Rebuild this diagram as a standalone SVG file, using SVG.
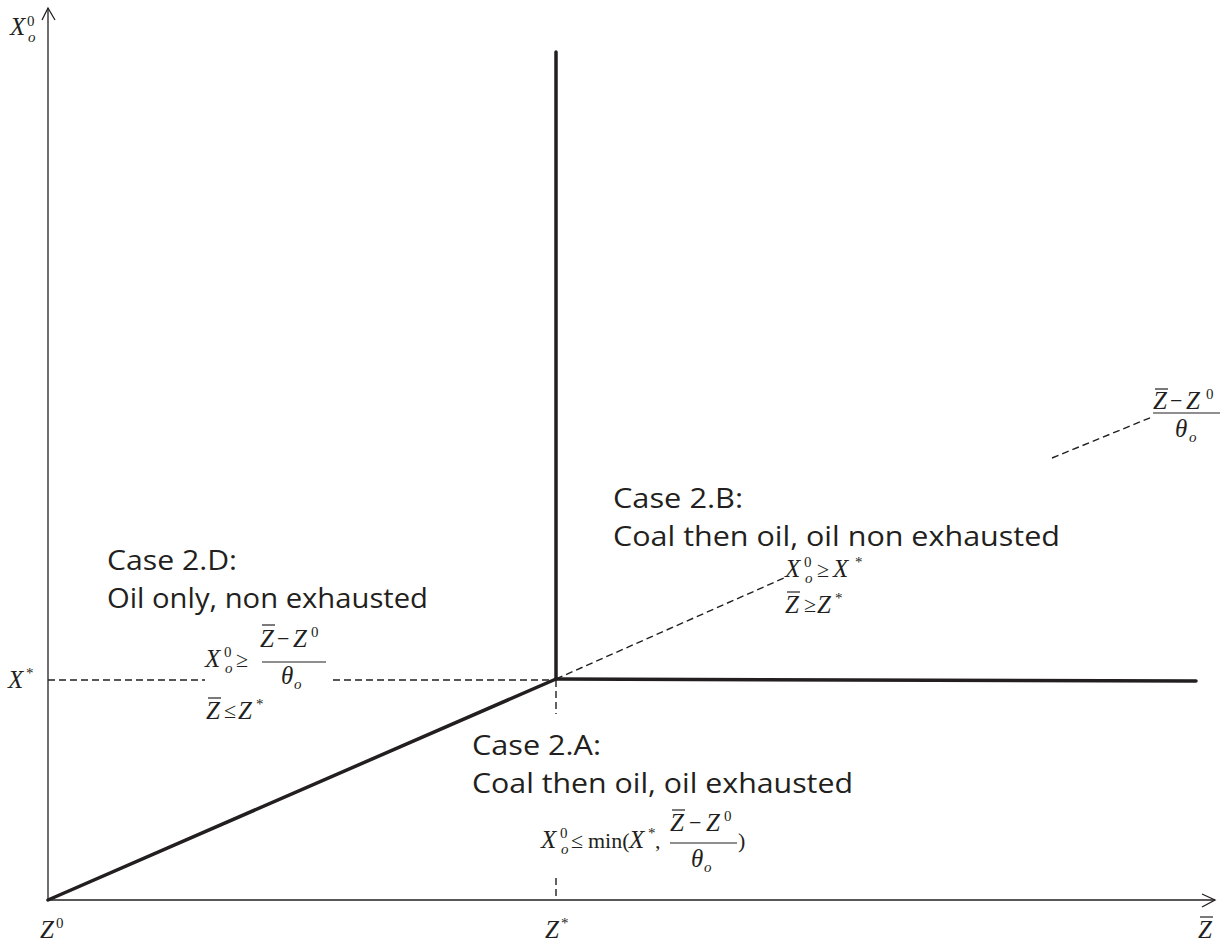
<svg xmlns="http://www.w3.org/2000/svg" width="1229" height="946" viewBox="0 0 1229 946">
<style>
.case{font-family:"Open Sans","Liberation Sans",sans-serif;font-size:28px;fill:#231f20}
.mi{font-family:"Liberation Serif",serif;font-style:italic;font-size:25px;fill:#231f20}
.mn{font-family:"Liberation Serif",serif;font-size:15px;fill:#231f20}
.mo{font-family:"Liberation Serif",serif;font-size:22px;fill:#231f20}
.ms{font-family:"Liberation Serif",serif;font-style:italic;font-size:15px;fill:#231f20}
.rm{font-family:"Liberation Serif",serif;font-size:22px;fill:#231f20}
.thin{stroke:#231f20;stroke-width:1.3;fill:none}
.thick{stroke:#231f20;stroke-width:3.5;fill:none;stroke-linecap:round}
.dash{stroke:#231f20;stroke-width:1.4;fill:none;stroke-dasharray:7 4}
.bar{stroke:#231f20;stroke-width:1.2}
</style>
<rect width="1229" height="946" fill="#ffffff"/>
<g id="axes">
<line class="thin" x1="48" y1="900" x2="48" y2="8"/>
<polyline class="thin" points="42,20 48,8 55,20"/>
<line class="thin" x1="48" y1="900" x2="1215" y2="900"/>
<polyline class="thin" points="1202,894 1215,900 1202,907"/>
</g>
<g id="connectors">
<line class="thick" x1="556" y1="52" x2="556" y2="679"/>
<line class="thick" x1="556" y1="679" x2="1196" y2="681"/>
<line class="thick" x1="48" y1="900" x2="556" y2="679"/>
<line class="dash" x1="48" y1="680" x2="205" y2="680"/>
<line class="dash" x1="333" y1="680" x2="556" y2="680"/>
<line class="dash" x1="556" y1="680" x2="556" y2="714"/>
<line class="dash" x1="556" y1="878" x2="556" y2="900"/>
<line class="dash" x1="556" y1="679" x2="784" y2="578"/>
<line class="dash" x1="1052" y1="458" x2="1152" y2="417"/>
</g>
<g id="axis-labels">
<text class="mi" x="10" y="35">X</text><text class="mn" x="27" y="26">0</text><text class="ms" x="28" y="42">o</text>
<text class="mi" x="8" y="688">X</text><text class="mn" x="26" y="678">*</text>
<text class="mi" x="40" y="938">Z</text><text class="mn" x="56" y="928">0</text>
<text class="mi" x="545" y="938">Z</text><text class="mn" x="561" y="928">*</text>
<text class="mi" x="1198" y="938">Z</text><line class="bar" x1="1200" y1="917" x2="1213" y2="917"/>
<g id="top-fraction">
<text class="mi" x="1153" y="409">Z</text><line class="bar" x1="1155" y1="389" x2="1168" y2="389"/>
<text class="mo" x="1170" y="408">−</text>
<text class="mi" x="1186" y="409">Z</text><text class="mn" x="1206" y="399">0</text>
<line class="bar" x1="1153" y1="413" x2="1220" y2="413"/>
<text class="mi" x="1175" y="437">θ</text><text class="ms" x="1189" y="442">o</text>
</g>
</g>
<g id="case-2D">
<text class="case" x="107" y="570" textLength="130" lengthAdjust="spacingAndGlyphs">Case 2.D:</text>
<text class="case" x="107" y="608" textLength="321" lengthAdjust="spacingAndGlyphs">Oil only, non exhausted</text>
<text class="mi" x="205" y="667">X</text><text class="mn" x="224" y="657">0</text><text class="ms" x="225" y="673">o</text>
<text class="mo" x="236" y="667">≥</text>
<text class="mi" x="260" y="647">Z</text><line class="bar" x1="262" y1="625" x2="275" y2="625"/>
<text class="mo" x="277" y="646">−</text>
<text class="mi" x="293" y="647">Z</text><text class="mn" x="311" y="637">0</text>
<line class="bar" x1="262" y1="662" x2="326" y2="662"/>
<text class="mi" x="281" y="684">θ</text><text class="ms" x="294" y="689">o</text>
<text class="mi" x="206" y="719">Z</text><line class="bar" x1="208" y1="698" x2="221" y2="698"/>
<text class="mo" x="224" y="718">≤</text>
<text class="mi" x="238" y="719">Z</text><text class="mn" x="256" y="709">*</text>
</g>
<g id="case-2B">
<text class="case" x="613" y="508" textLength="130" lengthAdjust="spacingAndGlyphs">Case 2.B:</text>
<text class="case" x="613" y="546" textLength="447" lengthAdjust="spacingAndGlyphs">Coal then oil, oil non exhausted</text>
<text class="mi" x="785" y="577">X</text><text class="mn" x="804" y="567">0</text><text class="ms" x="805" y="583">o</text>
<text class="mo" x="817" y="577">≥</text>
<text class="mi" x="833" y="577">X</text><text class="mn" x="855" y="567">*</text>
<text class="mi" x="785" y="613">Z</text><line class="bar" x1="787" y1="592" x2="800" y2="592"/>
<text class="mo" x="804" y="612">≥</text>
<text class="mi" x="817" y="613">Z</text><text class="mn" x="835" y="603">*</text>
</g>
<g id="case-2A">
<text class="case" x="472" y="755" textLength="129" lengthAdjust="spacingAndGlyphs">Case 2.A:</text>
<text class="case" x="472" y="793" textLength="381" lengthAdjust="spacingAndGlyphs">Coal then oil, oil exhausted</text>
<text class="mi" x="541" y="848">X</text><text class="mn" x="560" y="838">0</text><text class="ms" x="561" y="854">o</text>
<text class="mo" x="571" y="848">≤</text>
<text class="rm" x="588" y="848">min(</text>
<text class="mi" x="629" y="848">X</text><text class="mn" x="648" y="838">*</text>
<text class="rm" x="655" y="848">,</text>
<text class="mi" x="670" y="831">Z</text><line class="bar" x1="672" y1="810" x2="685" y2="810"/>
<text class="mo" x="689" y="830">−</text>
<text class="mi" x="706" y="831">Z</text><text class="mn" x="724" y="821">0</text>
<line class="bar" x1="670" y1="843" x2="737" y2="843"/>
<text class="mi" x="691" y="867">θ</text><text class="ms" x="704" y="872">o</text>
<text class="rm" x="738" y="848">)</text>
</g>
</svg>
